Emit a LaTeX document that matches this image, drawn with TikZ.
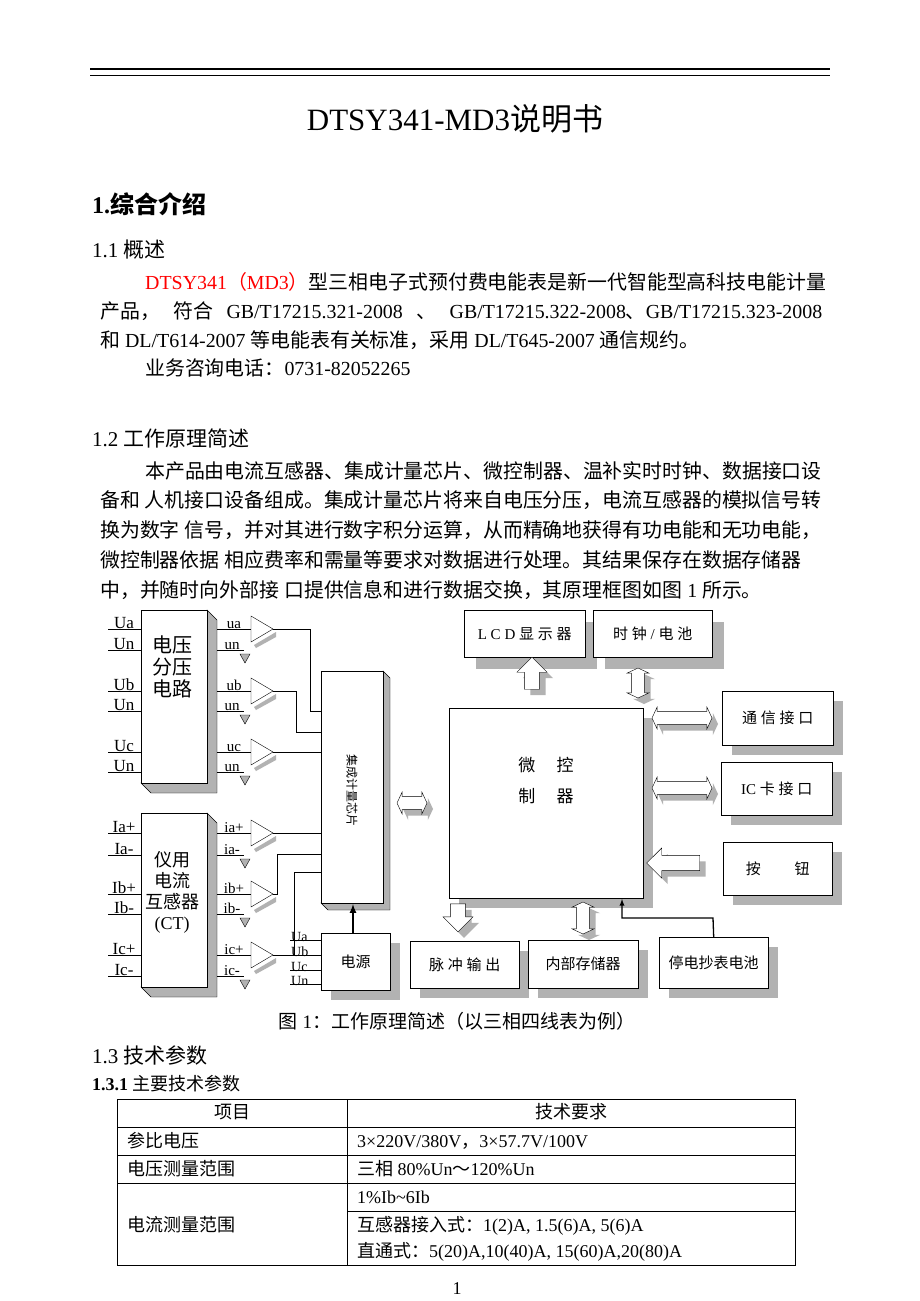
\documentclass[tikz,border=0pt]{standalone}
\usepackage{fontspec}
\usetikzlibrary{shapes.arrows}
\setmainfont{Liberation Serif}
\newfontfamily\cjk{Noto Sans CJK SC}
\newcount\cc
\cc="4E00 \loop\XeTeXcharclass\cc=1 \advance\cc by 1 \ifnum\cc<"A000\repeat
\cc="3000 \loop\XeTeXcharclass\cc=1 \advance\cc by 1 \ifnum\cc<"3040\repeat
\cc="FF00 \loop\XeTeXcharclass\cc=1 \advance\cc by 1 \ifnum\cc<"FFF0\repeat
\XeTeXinterchartoks 0 1 {\cjk}
\XeTeXinterchartoks 4095 1 {\cjk}
\XeTeXinterchartoks 1 0 {\rmfamily}
\XeTeXinterchartoks 1 4095 {\rmfamily}
\XeTeXinterchartokenstate=1
\newcommand\fs[1]{\fontsize{#1}{#1}\selectfont}
\tikzset{
 bx/.style={draw,fill=white,inner sep=0pt,align=center,font=\fs{15}},
 shd/.style={fill=gray!60},
 sa/.style={single arrow,single arrow head extend=7pt,minimum width=30pt,inner sep=7pt},
 da/.style={double arrow,double arrow head extend=4pt,double arrow tip angle=130,minimum width=22pt,inner sep=3pt,inner ysep=6pt},
 wire/.style={line width=0.9pt},
 sig/.style={font=\fs{14},inner sep=0pt,anchor=south},
 tx/.style={anchor=base west,inner sep=0pt,font=\fs{19.9}},
}
\newcommand\shb[7]{\fill[shd] (#2+#6,#3+#6) rectangle (#4+#6,#5+#6);
 \node[bx,anchor=north west,minimum width={(#4-#2)*1pt},minimum height={(#5-#3)*1pt}] (#1) at (#2,#3) {#7};}
\newcommand\tdb[7]{\filldraw[fill=gray!60] (#4,#3) -- (#4+#6,#3+#6) -- (#4+#6,#5+#6) -- (#2+#6,#5+#6) -- (#2,#5) -- cycle;
 \node[bx,anchor=north west,minimum width={(#4-#2)*1pt},minimum height={(#5-#3)*1pt}] (#1) at (#2,#3) {#7};}
\newcommand\blk[5]{\node[#5,fill=gray!60,draw=none,minimum height=#3,rotate=#4] at (#1+6,#2+6) {};
 \node[#5,draw,fill=white,minimum height=#3,rotate=#4] at (#1,#2) {};}
\newcommand\amp[1]{\fill[gray!60] (254,#1+16) -- (276,#1+3) -- (276,#1+8) -- (256,#1+19) -- cycle;
 \filldraw[fill=white] (251,#1-13) -- (251,#1+13) -- (273,#1) -- cycle;}
\newcommand\gnd[1]{\draw (217,#1) -- (244,#1);
 \filldraw[fill=gray!60] (240,#1+4) -- (250,#1+4) -- (245,#1+13) -- cycle;}
\begin{document}
\begin{tikzpicture}[x=1pt,y=-1pt]
\useasboundingbox[fill=white] (0,0) rectangle (920,1301);
% header lines
\draw[line width=1.3pt] (90,69) -- (830,69);
\draw[line width=0.7pt] (90,75) -- (830,75);
\node[font=\fs{31}] (title) at (455,119) {DTSY341-MD3说明书};
\node[tx,font=\fs{24}\bfseries] (h1) at (92,213) {1.综合介绍};
\node[tx,font=\fs{21}] (h11) at (92,257) {1.1 概述};
\node[tx] (p1) at (145,289) {\textcolor{red}{DTSY341（MD3）}型三相电子式预付费电能表是新一代智能型高科技电能计量};
\node[tx] (p2) at (100,318) {\makebox[722pt][s]{产品，   符合   GB/T17215.321-2008   、  GB/T17215.322-2008、GB/T17215.323-2008}};
\node[tx] (p3) at (100,347) {和 DL/T614-2007 等电能表有关标准，采用 DL/T645-2007 通信规约。};
\node[tx] (p4) at (145,375) {业务咨询电话：0731-82052265};
\node[tx,font=\fs{21}] (h12) at (92,446) {1.2 工作原理简述};
\node[tx] (q1) at (145,478) {本产品由电流互感器、集成计量芯片、微控制器、温补实时时钟、数据接口设};
\node[tx] (q2) at (100,507) {备和 人机接口设备组成。集成计量芯片将来自电压分压，电流互感器的模拟信号转};
\node[tx] (q3) at (100,537) {换为数字 信号，并对其进行数字积分运算，从而精确地获得有功电能和无功电能，};
\node[tx] (q4) at (100,567) {微控制器依据 相应费率和需量等要求对数据进行处理。其结果保存在数据存储器};
\node[tx] (q5) at (100,597) {中，并随时向外部接 口提供信息和进行数据交换，其原理框图如图 1 所示。};
% ===== diagram =====
\tdb{vb}{141}{610}{207}{783}{10}{}
\node[font=\fs{20},align=center,anchor=north] at (172,632) {电压\\[2pt]分压\\[2pt]电路};
\tdb{ct}{141}{813}{207}{987}{10}{}
\node[font=\fs{18},align=center,anchor=north] at (172,848) {仪用\\[3pt]电流\\[3pt]互感器\\[3pt](CT)};
\tdb{chip}{321}{671}{383}{903}{7}{}
\node[rotate=-90,font=\fs{12}] at (352,790) {集成计量芯片};
% inputs
\foreach \y/\t in {629/Ua,650/Un,691/Ub,711/Un,752/Uc,772/Un,833/Ia+,855/Ia-,894/Ib+,914/Ib-,955/Ic+,976/Ic-}{
 \draw (108,\y) -- (141,\y); \node[sig,font=\fs{17}] at (124,\y) {\t};}
% outputs
\foreach \y/\t in {629/ua,691/ub,752/uc,833/ia+,894/ib+,955/ic+}{
 \draw (217,\y) -- (251,\y); \node[sig,font=\fs{15}] at (234,\y) {\t}; \amp{\y}}
\foreach \y/\t in {650/un,711/un,772/un,855/ia-,914/ib-,976/ic-}{
 \gnd{\y} \node[sig,font=\fs{15}] at (232,\y) {\t};}
\draw[wire] (273,629) -- (310,629) -- (310,711) -- (chip.west |- 0,711);
\draw[wire] (273,691) -- (296,691) -- (296,732) -- (chip.west |- 0,732);
\draw[wire] (273,752) -- (chip.west |- 0,752);
\draw[wire] (273,833) -- (chip.west |- 0,833);
\draw[wire] (273,894) -- (277,894) -- (277,854) -- (chip.west |- 0,854);
\draw[wire] (273,955) -- (294,955) -- (294,872) -- (chip.west |- 0,872);
% power
\shb{ps}{321}{933}{390}{990}{10}{电源}
\draw[line width=2pt,-latex] (353,933) -- (353,904);
\foreach \y/\t in {940/Ua,955/Ub,970/Uc,984/Un}{
 \draw (290,\y) -- (321,\y); \node[sig,anchor=south west,font=\fs{14}] at (291,\y+2) {\t};}
% right side
\shb{lcd}{464}{610}{585}{657}{12}{L C D 显 示 器}
\shb{clk}{593}{610}{712}{657}{12}{时 钟 / 电 池}
\shb{mcu}{449}{708}{643}{898}{10}{}
\node[font=\fs{17},align=center] at (546,781) {微 \quad 控\\[14pt]制 \quad 器};
\shb{com}{722}{691}{833}{745}{10}{通 信 接 口}
\shb{ic}{721}{762}{832}{815}{10}{IC 卡 接 口}
\shb{btn}{723}{842}{832}{895}{10}{按 \qquad 钮}
\shb{pul}{410}{941}{519}{988}{10}{脉 冲 输 出}
\shb{mem}{528}{940}{638}{988}{10}{内部存储器}
\shb{bat}{659}{937}{768}{988}{10}{停电抄表电池}
\blk{532}{677}{32}{90}{sa}
\blk{638}{683}{30}{90}{da}
\blk{682}{718}{60}{0}{da}
\blk{682}{788}{60}{0}{da}
\blk{677}{863}{53}{180}{sa}
\blk{458}{914}{28}{-90}{sa}
\blk{583}{918}{32}{90}{da}
\blk{412}{803}{30}{0}{da}
\draw[line width=1.3pt,-latex] (bat.north) -- (713,918) -- (622,918) -- (622,899);
% caption
\node[font=\fs{19}] (cap) at (457,1021) {图 1：工作原理简述（以三相四线表为例）};
\node[tx,font=\fs{21}] (h13) at (92,1063) {1.3 技术参数};
\node[tx,font=\fs{18}] (h131) at (92,1090) {\textbf{1.3.1} 主要技术参数};
% table
\draw[line width=1pt] (117,1099) rectangle (795,1265);
\draw (347,1099) -- (347,1265);
\foreach \y in {1127,1155,1183} \draw (117,\y) -- (795,\y);
\draw (347,1211) -- (795,1211);
\node[font=\fs{18}] at (232,1112) {项目};
\node[font=\fs{18}] at (571,1112) {技术要求};
\tikzset{tc/.style={anchor=base west,inner sep=0pt,font=\fs{18}}}
\node[tc] at (127,1147) {参比电压};
\node[tc] at (357,1147) {3×220V/380V，3×57.7V/100V};
\node[tc] at (127,1175) {电压测量范围};
\node[tc] at (357,1175) {三相  80\%Un～120\%Un};
\node[tc] at (127,1231) {电流测量范围};
\node[tc] at (357,1203) {1\%Ib\textasciitilde 6Ib};
\node[tc] at (357,1231) {互感器接入式：1(2)A, 1.5(6)A, 5(6)A};
\node[tc] at (357,1257) {直通式：5(20)A,10(40)A, 15(60)A,20(80)A};
\node[font=\fs{18}] (pg) at (457,1289) {1};
\end{tikzpicture}
\end{document}
